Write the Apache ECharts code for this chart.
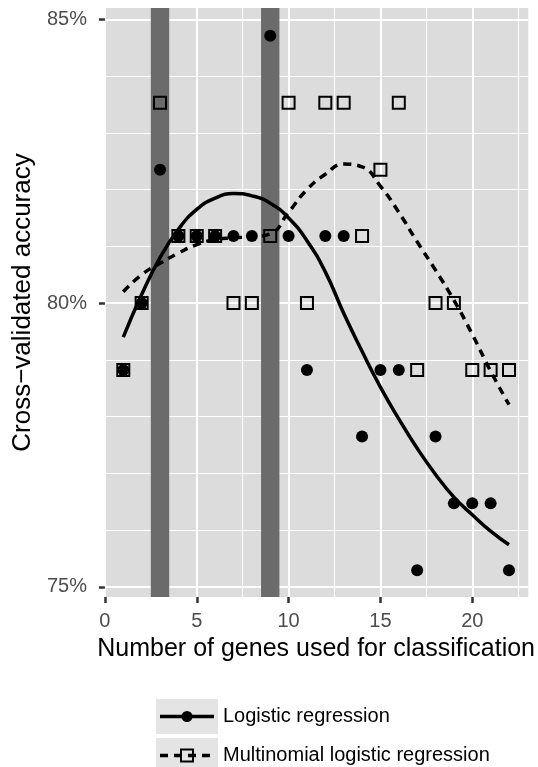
<!DOCTYPE html>
<html>
<head>
<meta charset="utf-8">
<script src="https://cdn.jsdelivr.net/npm/echarts@6/dist/echarts.min.js"></script>
<style>
html,body{margin:0;padding:0;background:#fff;}
#chart{width:538px;height:767px;}
</style>
</head>
<body>
<div id="chart"></div>
<script>
// ---- data ----
const genes = [1,2,3,4,5,6,7,8,9,10,11,12,13,14,15,16,17,18,19,20,21,22];
const logisticAcc = [78.82,80.00,82.35,81.18,81.18,81.18,81.18,81.18,84.71,81.18,78.82,81.18,81.18,77.65,78.82,78.82,75.29,77.65,76.47,76.47,76.47,75.29];
const multinomAcc = [78.82,80.00,83.53,81.18,81.18,81.18,80.00,80.00,81.18,83.53,80.00,83.53,83.53,81.18,82.35,83.53,78.82,80.00,80.00,78.82,78.82,78.82];
const logisticFit = [79.40,80.15,80.80,81.30,81.65,81.85,81.93,81.89,81.76,81.50,81.10,80.55,79.82,79.15,78.52,77.96,77.44,76.98,76.58,76.27,75.98,75.74];
const multinomFit = [80.20,80.50,80.70,80.88,81.03,81.12,81.15,81.17,81.22,81.60,82.00,82.27,82.45,82.40,82.06,81.60,81.08,80.58,80.05,79.45,78.80,78.21];
const bands = [[2.5,3.5],[8.5,9.5]];
const xMajorTicks = [0,5,10,15,20];
const xMinorTicks = [2.5,7.5,12.5,17.5,22.5];
const yMajorTicks = [75,80,85];
const yMinorTicks = [76,77,78,79,81,82,83,84];
const seriesNames = ['Logistic regression','Multinomial logistic regression'];

const FONT = '"Liberation Sans", Helvetica, Arial, sans-serif';
const pair = (xs, ys) => xs.map((x,i)=>[x, ys[i]]);

function keyIcon(kind){
  let inner;
  if(kind===0){
    inner = '<line x1="4" y1="17.5" x2="58" y2="17.5" stroke="#000" stroke-width="3.5"/>' +
            '<circle cx="31" cy="17.5" r="5.5" fill="#000"/>';
  } else {
    inner = '<line x1="4" y1="17.5" x2="58" y2="17.5" stroke="#000" stroke-width="3.5" stroke-dasharray="8,6"/>' +
            '<rect x="25" y="11.5" width="12" height="12" fill="none" stroke="#000" stroke-width="2"/>';
  }
  const svg = '<svg xmlns="http://www.w3.org/2000/svg" width="62" height="35" viewBox="0 0 62 35">' +
              '<rect x="0" y="0" width="62" height="35" fill="#e4e4e4"/>' + inner + '</svg>';
  return 'image://data:image/svg+xml;charset=utf-8,' + encodeURIComponent(svg);
}

const chart = echarts.init(document.getElementById('chart'), null, {renderer:'canvas'});
chart.setOption({
  animation:false,
  backgroundColor:'#ffffff',
  textStyle:{fontFamily:FONT},
  grid:{left:104, top:8, right:0, bottom:170, show:true, backgroundColor:'#dcdcdc', borderWidth:0},
  legend:{
    orient:'vertical', left:156, top:699, height:90, padding:0, itemWidth:62, itemHeight:35, itemGap:4,
    textStyle:{fontSize:20, color:'#000', fontFamily:FONT},
    data:[{name:seriesNames[0], icon:keyIcon(0)},{name:seriesNames[1], icon:keyIcon(1)}]
  },
  xAxis:[{
    type:'value', min:-0.05, max:23.05,
    name:'Number of genes used for classification', nameLocation:'middle', nameGap:40,
    nameTextStyle:{fontSize:25, color:'#000', fontFamily:FONT},
    axisLine:{show:false},
    axisTick:{show:true, length:6, customValues:xMajorTicks, lineStyle:{color:'#333', width:2.5}},
    axisLabel:{show:true, customValues:xMajorTicks, fontSize:20, color:'#4d4d4d', margin:14, fontFamily:FONT},
    splitLine:{show:true, lineStyle:{color:'#ffffff', width:2}}
  },{
    type:'value', min:-0.05, max:23.05, position:'bottom',
    axisLine:{show:false}, axisLabel:{show:false},
    axisTick:{show:false, customValues:xMinorTicks},
    splitLine:{show:true, lineStyle:{color:'#ffffff', width:1}}
  }],
  yAxis:[{
    type:'value', min:74.82, max:85.2,
    name:'Cross\u2212validated accuracy', nameLocation:'middle', nameGap:66, nameRotate:90,
    nameTextStyle:{fontSize:26, color:'#000', fontFamily:FONT},
    axisLine:{show:false},
    axisTick:{show:true, length:6, customValues:yMajorTicks, lineStyle:{color:'#333', width:2.5}},
    axisLabel:{show:true, customValues:yMajorTicks, fontSize:20, color:'#4d4d4d', margin:17,
               fontFamily:FONT, formatter:v=>Math.round(v)+'%'},
    splitLine:{show:true, lineStyle:{color:'#ffffff', width:2}}
  },{
    type:'value', min:74.82, max:85.2, position:'left',
    axisLine:{show:false}, axisLabel:{show:false},
    axisTick:{show:false, customValues:yMinorTicks},
    splitLine:{show:true, lineStyle:{color:'#ffffff', width:1}}
  }],
  series:[
    {
      type:'custom', name:'bands', z:1, silent:true,
      data:bands,
      renderItem:function(params, api){
        const p0 = api.coord([api.value(0), 85.2]);
        const p1 = api.coord([api.value(1), 74.82]);
        return {type:'rect', shape:{x:p0[0], y:p0[1], width:p1[0]-p0[0], height:p1[1]-p0[1]},
                style:{fill:'#6b6b6b'}};
      }
    },
    {
      type:'scatter', name:seriesNames[1], z:4, symbol:'rect', symbolSize:12,
      data:pair(genes, multinomAcc),
      itemStyle:{color:'rgba(0,0,0,0)', borderColor:'#000', borderWidth:2, opacity:1}
    },
    {
      type:'scatter', name:seriesNames[0], z:5, symbol:'circle', symbolSize:12,
      data:pair(genes, logisticAcc),
      itemStyle:{color:'#000', opacity:1}
    },
    {
      type:'line', name:seriesNames[0], z:6, smooth:0.5, showSymbol:false,
      data:pair(genes, logisticFit),
      lineStyle:{color:'#000', width:3.5}, itemStyle:{color:'#000'}
    },
    {
      type:'line', name:seriesNames[1], z:6, smooth:0.5, showSymbol:false,
      data:pair(genes, multinomFit),
      lineStyle:{color:'#000', width:3.5, type:[8,6]}, itemStyle:{color:'#000'}
    }
  ]
});
</script>
</body>
</html>
